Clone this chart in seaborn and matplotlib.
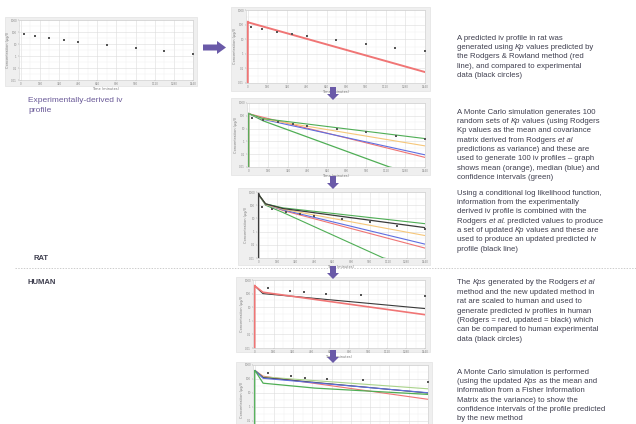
import matplotlib
matplotlib.use("Agg")
import matplotlib.pyplot as plt
from matplotlib.patches import Rectangle, Polygon
from matplotlib.lines import Line2D
import seaborn as sns
import pandas as pd

# ---------------- data (log10 concentration vs time in minutes) ----------------
time_rat = [30, 120, 240, 360, 480, 720, 960, 1200, 1440]
conc_rat = [1.85, 1.7, 1.5, 1.35, 1.2, 0.95, 0.7, 0.4, 0.2]
time_human = [110, 300, 420, 600, 900, 1440]
conc_human = [2.4, 2.2, 2.1, 2.0, 1.9, 1.8]

# panel 1 / 2: Rodgers prediction in rat
t_rodgers_rat = [0, 0, 5, 1440]
c_rodgers_rat = [-2.5, 2.2, 2.15, -1.25]
# panel 2: Monte Carlo (rat)
t_mc = [5, 120, 1440]
c_mc_upper = [2.15, 1.78, 0.22]
c_mc_mean = [2.15, 1.75, -0.35]
c_mc_median = [2.15, 1.72, -1.05]
t_mc_lower = [0, 0, 5, 120, 1150, 1440]
c_mc_lower = [-2.5, 2.2, 2.15, 1.6, -2.0, -2.6]
# panel 3: updated prediction (rat)
t_upd = [0, 0, 5, 60, 210, 1440]
c_upd = [-2.5, 2.9, 2.75, 2.1, 1.75, 0.3]
t_p3 = [5, 60, 210, 1440]
c_p3_upper = [2.75, 2.1, 1.8, 0.6]
c_p3_mean = [2.75, 2.05, 1.7, -0.3]
c_p3_median = [2.75, 2.05, 1.65, -0.95]
c_p3_rodgers = [2.75, 2.1, 1.6, -1.25]
t_p3_lower = [5, 60, 210, 1080, 1440]
c_p3_lower = [2.75, 2.0, 1.45, -2.0, -2.6]
# panel 4: human predictions
t_rodgers_hum = [0, 0, 3, 70, 1440]
c_rodgers_hum = [-2.5, 2.6, 2.55, 2.1, 0.45]
t_upd_hum = [3, 70, 1440]
c_upd_hum = [2.55, 2.0, 0.9]
# panel 5: Monte Carlo (human)
t_p5 = [3, 70, 1440]
c_p5_upper = [2.6, 2.15, 1.3]
c_p5_upd = [2.6, 2.1, 1.0]
c_p5_median = [2.6, 2.05, 1.02]
c_p5_rodgers = [2.6, 2.2, 0.55]
t_p5_lower = [0, 0, 3, 70, 500, 1440]
c_p5_lower = [-2.5, 2.6, 2.6, 1.7, 1.35, 0.9]

ytick_vals = [-2, -1, 0, 1, 2, 3]
ytick_labels = ['0.01', '0.1', '1', '10', '100', '1000']
xtick_vals = [0, 160, 320, 480, 640, 800, 960, 1120, 1280, 1440]

RED = '#f07575'
GREEN = '#4fae55'
LGREEN = '#a9d38a'
BLUE = '#5f6fe0'
ORANGE = '#f6c77a'
BLACK = '#3a3a3a'
PURPLE = '#6a5aa8'

W, H = 636, 424
fig = plt.figure(figsize=(W / 100, H / 100), dpi=100)


def fx(x):
    return x / W


def fy(y):
    return 1 - y / H


def labels(ax, show_x=True):
    if show_x:
        ax.set_xlabel('Time (minutes)', fontsize=2.5, color='#777777', labelpad=0.5)
    else:
        ax.set_xlabel('')
    ax.set_ylabel('Concentration (µg/l)', fontsize=2.5, color='#777777', labelpad=0.5)


def panel(outer, plot, show_x=True):
    x0, y0, x1, y1 = outer
    fig.patches.append(Rectangle((fx(x0), fy(y1)), (x1 - x0) / W, (y1 - y0) / H,
                                 transform=fig.transFigure, facecolor='#efefef',
                                 edgecolor='#e2e2e2', lw=0.5, zorder=-5))
    px0, py0, px1, py1 = plot
    ax = fig.add_axes([fx(px0), fy(py1), (px1 - px0) / W, (py1 - py0) / H])
    ax.set_facecolor('white')
    ax.set_xlim(-14, 1440)
    ax.set_ylim(-2, 3)
    ax.set_xticks(xtick_vals)
    ax.set_xticks([v + 80 for v in xtick_vals[:-1]], minor=True)
    ax.set_yticks(ytick_vals)
    if show_x:
        ax.set_xticklabels([str(v) for v in xtick_vals])
        ax.set_yticklabels(ytick_labels)
    else:
        ax.set_xticklabels([])
        ax.set_yticklabels([''] + ytick_labels[1:])
    ax.set_yticks([v + 0.5 for v in ytick_vals[:-1]], minor=True)
    ax.tick_params(labelsize=2, colors='#888888', length=1, width=0.3, pad=0.5)
    ax.tick_params(which='minor', length=0)
    ax.grid(True, which='major', color='#dcdcdc', lw=0.4)
    ax.grid(True, which='minor', color='#eeeeee', lw=0.3)
    ax.set_axisbelow(True)
    for s in ax.spines.values():
        s.set_color('#cccccc')
        s.set_linewidth(0.4)
    ax._show_x = show_x
    labels(ax, show_x)
    return ax


def line(ax, t, c, color, lw=0.8, z=2):
    df = pd.DataFrame({'t': t, 'c': c})
    sns.lineplot(data=df, x='t', y='c', ax=ax, color=color, lw=lw, sort=False,
                 estimator=None, zorder=z, legend=False)
    labels(ax, ax._show_x)


def points(ax, t, c):
    df = pd.DataFrame({'t': t, 'c': c})
    sns.scatterplot(data=df, x='t', y='c', ax=ax, color='#555555', s=2.5,
                    marker='s', linewidth=0, zorder=5, legend=False)
    labels(ax, ax._show_x)


# Panel 0: experimental
ax0 = panel((5, 17, 197, 86), (19, 20, 193, 80))
points(ax0, time_rat, conc_rat)

# Panel 1: Rodgers prediction
ax1 = panel((231, 7, 430, 91), (246, 10, 425, 83))
line(ax1, t_rodgers_rat, c_rodgers_rat, RED, lw=1.4)
points(ax1, time_rat, conc_rat)

# Panel 2: Monte Carlo rat
ax2 = panel((231, 98, 430, 175), (247, 103, 425, 167))
line(ax2, t_rodgers_rat, c_rodgers_rat, RED)
line(ax2, t_mc_lower, c_mc_lower, GREEN, lw=0.9)
line(ax2, t_mc, c_mc_median, BLUE)
line(ax2, t_mc, c_mc_mean, ORANGE)
line(ax2, t_mc, c_mc_upper, GREEN)
points(ax2, time_rat, conc_rat)

# Panel 3: updated rat
ax3 = panel((238, 188, 430, 265), (257, 192, 425, 258))
line(ax3, t_p3_lower, c_p3_lower, GREEN)
line(ax3, t_p3, c_p3_rodgers, RED)
line(ax3, t_p3, c_p3_median, BLUE)
line(ax3, t_p3, c_p3_mean, ORANGE)
line(ax3, t_p3, c_p3_upper, GREEN)
line(ax3, t_upd, c_upd, BLACK, lw=0.9, z=3)
points(ax3, time_rat, conc_rat)

# Panel 4: human
ax4 = panel((236, 277, 430, 352), (253, 280, 425, 348))
line(ax4, t_upd_hum, c_upd_hum, BLACK)
line(ax4, t_rodgers_hum, c_rodgers_hum, RED, lw=1.2)
points(ax4, time_human, conc_human)

# Panel 5: Monte Carlo human
ax5 = panel((236, 362, 432, 445), (253, 365, 428, 435), show_x=False)
line(ax5, t_p5, c_p5_rodgers, RED)
line(ax5, t_p5, c_p5_upper, LGREEN)
line(ax5, t_p5, c_p5_upd, BLACK)
line(ax5, t_p5, c_p5_median, BLUE)
line(ax5, t_p5_lower, c_p5_lower, GREEN, lw=0.9)
points(ax5, time_human, conc_human)

# ---------------- arrows ----------------
def poly(pts, color=PURPLE):
    fig.add_artist(Polygon([(fx(x), fy(y)) for x, y in pts], closed=True,
                           transform=fig.transFigure, facecolor=color,
                           edgecolor='none', zorder=10))


def down_arrow(cx, y0):
    poly([(cx - 3, y0), (cx + 3, y0), (cx + 3, y0 + 7), (cx + 6, y0 + 7),
          (cx, y0 + 13), (cx - 6, y0 + 7), (cx - 3, y0 + 7)])


poly([(203, 44.5), (217, 44.5), (217, 41), (226, 47.5), (217, 54), (217, 50.5), (203, 50.5)])
down_arrow(333, 87)
down_arrow(333, 176)
down_arrow(333, 266)
down_arrow(333, 350)

# dashed separator
fig.add_artist(Line2D([fx(15), fx(636)], [fy(268), fy(268)], transform=fig.transFigure,
                      color='#b8b8b8', lw=0.5, ls=(0, (2, 2)), zorder=1))

# ---------------- texts ----------------
TXT = '#3f3f4f'
fig.text(fx(28), fy(100), 'Experimentally-derived iv', fontsize=6, color='#6a5a98',
         family='Liberation Sans', va='center')
fig.text(fx(28), fy(111), 'profile', fontsize=6, color='#6a5a98',
         family='Liberation Sans', va='center')
fig.text(fx(33), fy(258), 'RAT', fontsize=5.5, color=TXT, weight='bold',
         family='Liberation Sans', va='center')
fig.text(fx(28), fy(282), 'HUMAN', fontsize=5.5, color=TXT, weight='bold',
         family='Liberation Sans', va='center')

# segments between '*' are italic
blocks = [
    (38, ['A predicted iv profile in rat was',
          'generated using *Kp* values predicted by',
          'the Rodgers & Rowland method (red',
          'line), and compared to experimental',
          'data (black circles)']),
    (112, ['A Monte Carlo simulation generates 100',
           'random sets of *Kp* values (using Rodgers',
           'Kp values as the mean and covariance',
           'matrix derived from Rodgers *et al*',
           'predictions as variance) and these are',
           'used to generate 100 iv profiles \u2013 graph',
           'shows mean (orange), median (blue) and',
           'confidence intervals (green)']),
    (193, ['Using a conditional log likelihood function,',
           'information from the experimentally',
           'derived iv profile is combined with the',
           'Rodgers *et al*. predicted values to produce',
           'a set of updated *Kp* values and these are',
           'used to produce an updated predicted iv',
           'profile (black line)']),
    (283, ['The *Kps* generated by the Rodgers *et al*',
           'method and the new updated method in',
           'rat are scaled to human and used to',
           'generate predicted iv profiles in human',
           '(Rodgers = red, updated = black) which',
           'can be compared to human experimental',
           'data (black circles)']),
    (372, ['A Monte Carlo simulation is performed',
           '(using the updated *Kps* as the mean and',
           'information from a Fisher Information',
           'Matrix as the variance) to show the',
           'confidence intervals of the profile predicted',
           'by the new method']),
]

renderer = fig.canvas.get_renderer()
for y0, lines in blocks:
    for i, s in enumerate(lines):
        xpx = 457.0
        parts = s.split('*')
        for k, part in enumerate(parts):
            if not part:
                continue
            t = fig.text(fx(xpx), fy(y0 + i * 9.35), part, fontsize=5.6, color=TXT,
                         family='Liberation Sans', va='center',
                         style='italic' if k % 2 == 1 else 'normal')
            xpx += t.get_window_extent(renderer).width
        
fig.savefig('out.png', dpi=100)
